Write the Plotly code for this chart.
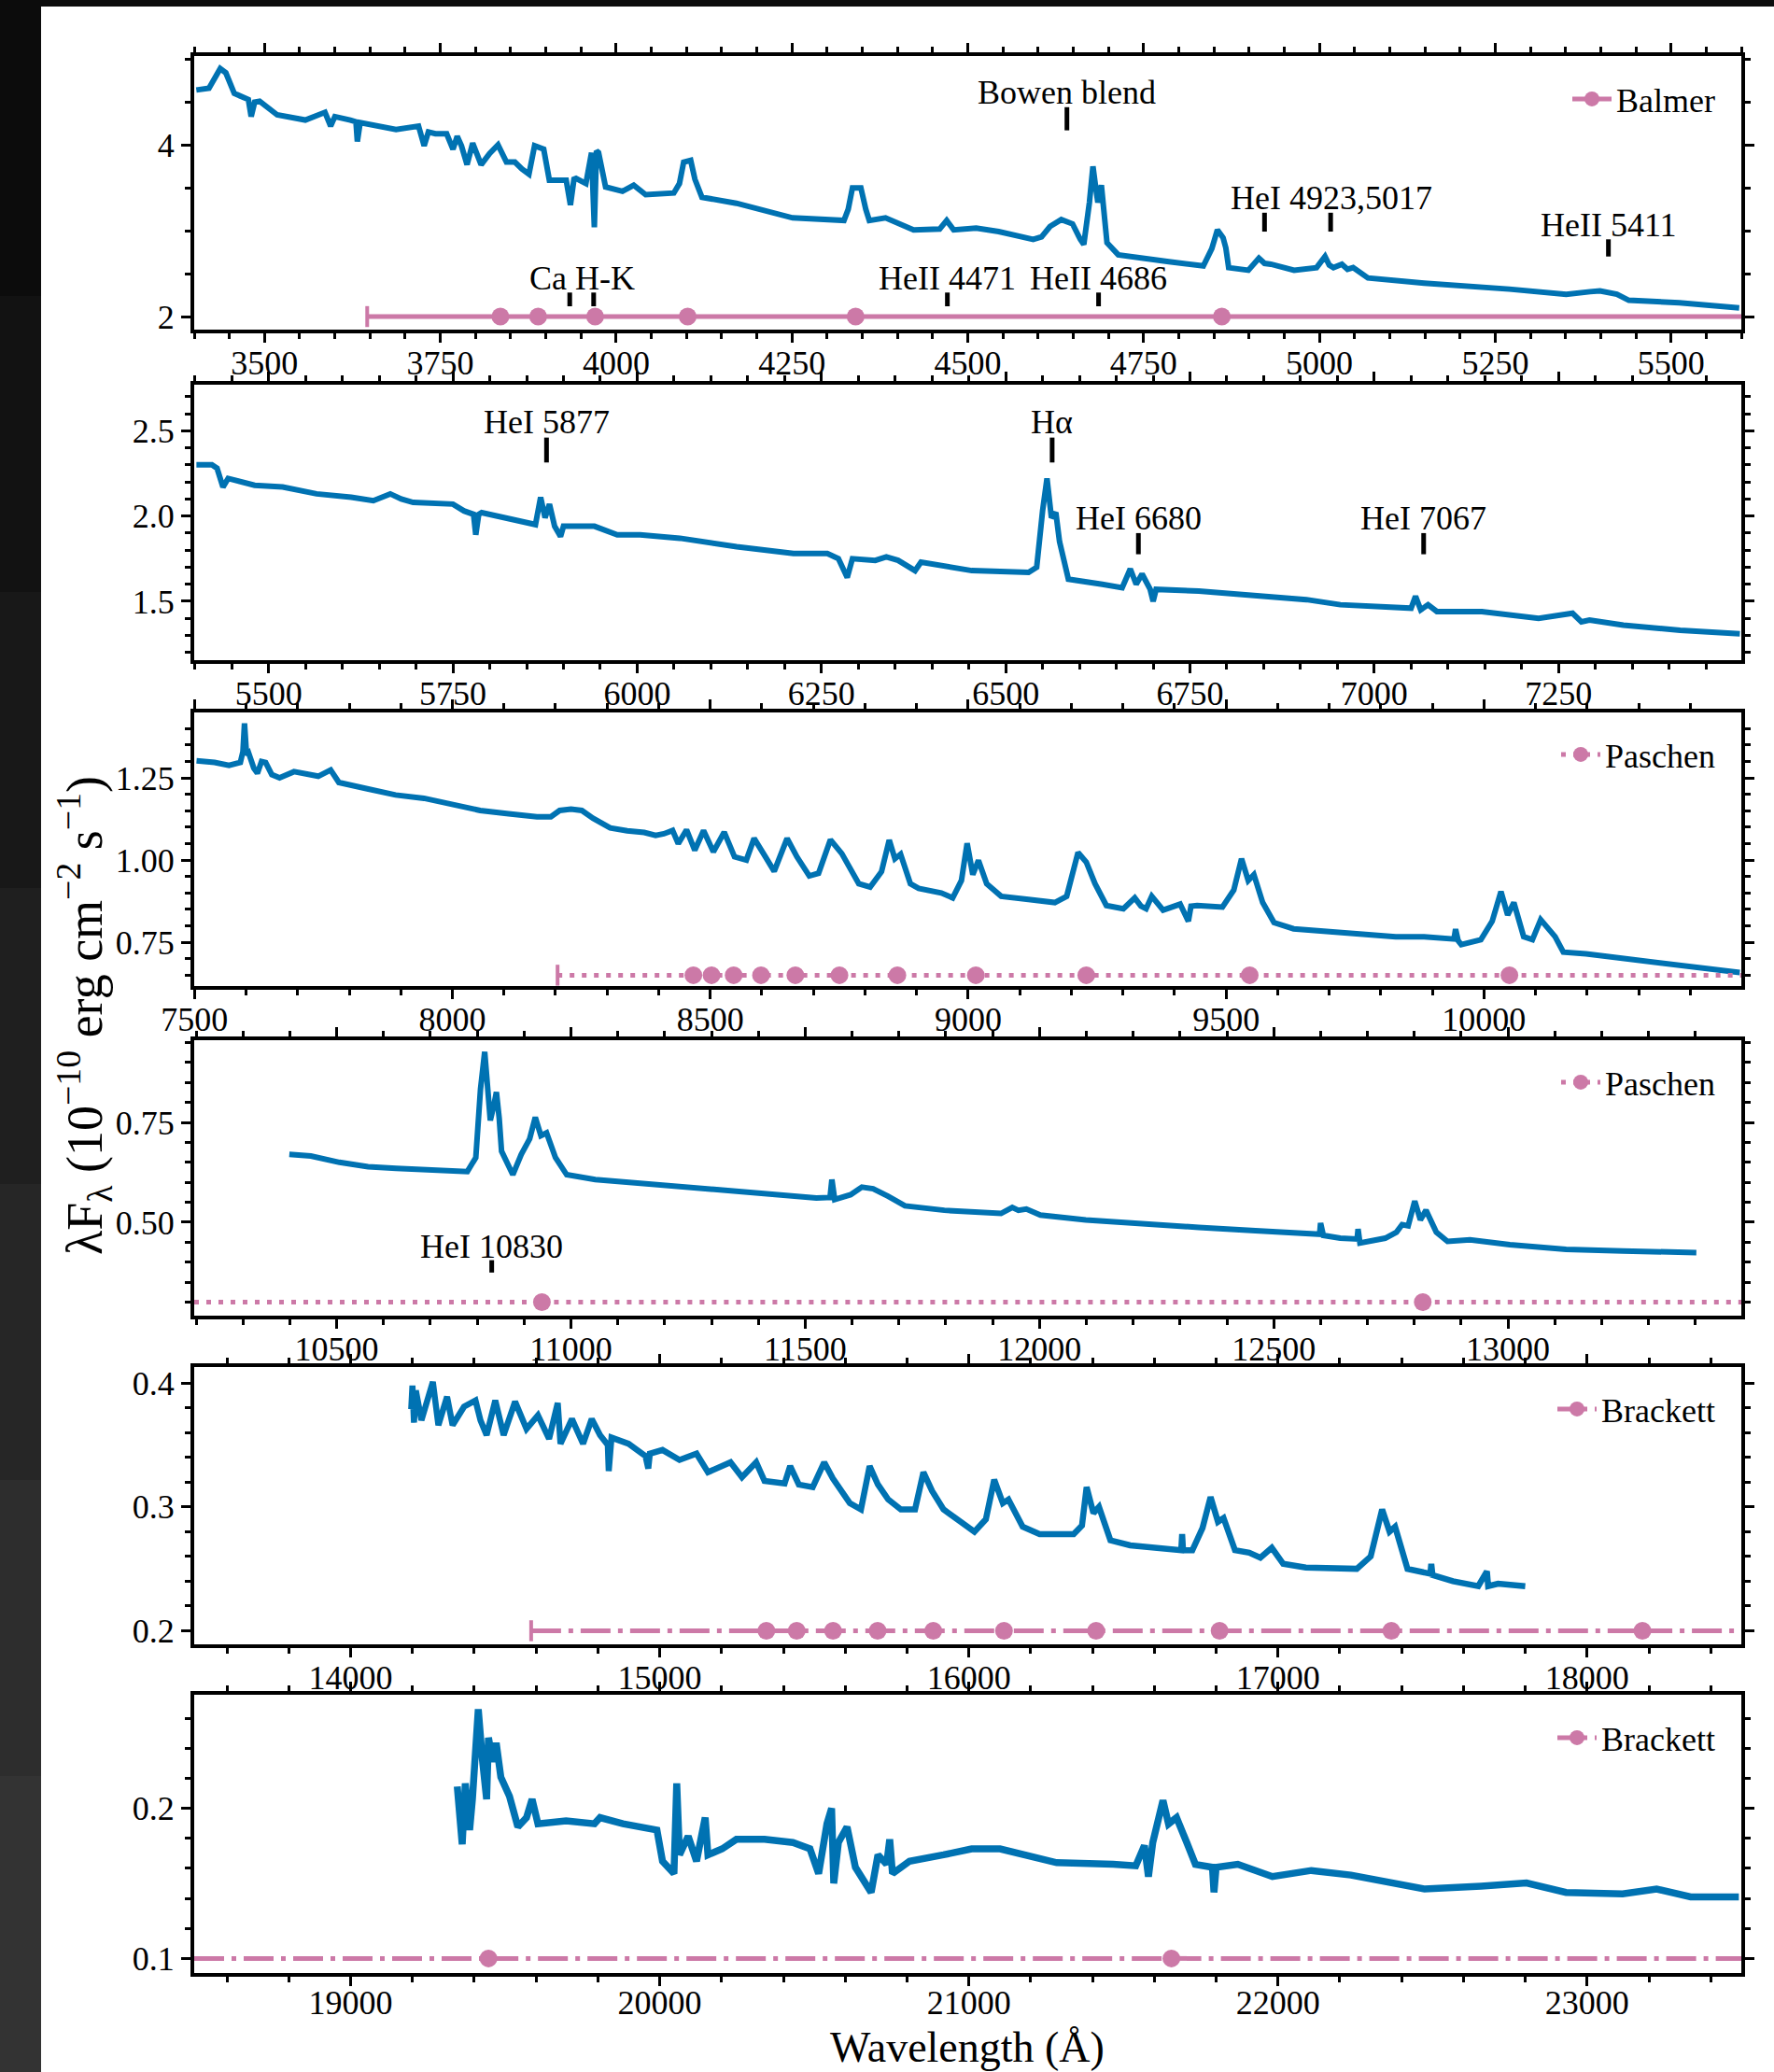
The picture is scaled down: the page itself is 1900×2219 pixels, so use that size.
import plotly.graph_objects as go

FONT = "Liberation Serif"
BLUE = "#0072B2"
PINK = "#CC79A7"

# ---------------- spectra ----------------
wave1 = [3403, 3421, 3437, 3445, 3457, 3477, 3481, 3486, 3493, 3518, 3558, 3586, 3594, 3600, 3622, 3630, 3632, 3636,
         3687, 3719, 3727, 3733, 3743, 3759, 3768, 3774, 3780, 3788, 3796, 3808, 3820, 3832, 3844, 3856, 3866, 3876,
         3884, 3891, 3897, 3905, 3929, 3935, 3940, 3943, 3957, 3965, 3969, 3972, 3975, 3985, 4009, 4025, 4042, 4082,
         4090, 4096, 4106, 4112, 4122, 4171, 4251, 4324, 4330, 4336, 4348, 4355, 4360, 4383, 4423, 4460, 4470, 4480,
         4512, 4544, 4593, 4605, 4617, 4633, 4649, 4660, 4665, 4673, 4678, 4682, 4685, 4690, 4694, 4698, 4714, 4746,
         4786, 4835, 4847, 4855, 4863, 4867, 4871, 4899, 4914, 4922, 4931, 4964, 4996, 5008, 5014, 5020, 5032, 5040,
         5048, 5069, 5149, 5270, 5351, 5385, 5399, 5423, 5440, 5512, 5597]
flux1 = [4.64, 4.66, 4.89, 4.84, 4.60, 4.53, 4.33, 4.50, 4.51, 4.35, 4.29, 4.38, 4.22, 4.33, 4.29, 4.27, 4.04, 4.26,
         4.18, 4.22, 3.99, 4.15, 4.13, 4.13, 3.95, 4.10, 3.99, 3.77, 4.02, 3.77, 3.90, 4.00, 3.80, 3.80, 3.72, 3.66,
         3.99, 3.97, 3.95, 3.59, 3.59, 3.30, 3.60, 3.61, 3.55, 3.91, 3.04, 3.93, 3.91, 3.51, 3.46, 3.53, 3.42, 3.44,
         3.55, 3.80, 3.82, 3.60, 3.39, 3.32, 3.15, 3.12, 3.25, 3.50, 3.50, 3.25, 3.12, 3.15, 3.01, 3.02, 3.12, 3.01,
         3.03, 2.99, 2.90, 2.93, 3.05, 3.13, 3.08, 2.90, 2.84, 3.33, 3.75, 3.50, 3.33, 3.53, 3.20, 2.86, 2.72, 2.68,
         2.64, 2.59, 2.79, 3.01, 2.92, 2.80, 2.57, 2.54, 2.68, 2.62, 2.61, 2.54, 2.57, 2.70, 2.60, 2.57, 2.61, 2.55,
         2.57, 2.45, 2.39, 2.32, 2.26, 2.29, 2.30, 2.26, 2.19, 2.16, 2.10]

wave2 = [5402, 5423, 5430, 5438, 5445, 5481, 5519, 5565, 5612, 5642, 5665, 5680, 5696, 5735, 5750, 5765, 5778, 5781,
         5785, 5789, 5827, 5862, 5869, 5875, 5881, 5888, 5896, 5900, 5942, 5973, 6004, 6058, 6135, 6212, 6258, 6273,
         6285, 6292, 6323, 6338, 6354, 6377, 6385, 6454, 6531, 6542, 6550, 6556, 6562, 6568, 6573, 6585, 6631, 6658,
         6669, 6677, 6685, 6696, 6700, 6704, 6762, 6838, 6869, 6908, 6954, 7031, 7050, 7056, 7063, 7073, 7085, 7146,
         7223, 7269, 7281, 7292, 7338, 7415, 7496]
flux2 = [2.30, 2.30, 2.28, 2.17, 2.22, 2.18, 2.17, 2.13, 2.11, 2.09, 2.13, 2.10, 2.08, 2.07, 2.07, 2.03, 2.01, 1.89,
         2.01, 2.02, 1.98, 1.95, 2.11, 1.99, 2.07, 1.94, 1.88, 1.94, 1.94, 1.89, 1.89, 1.87, 1.82, 1.78, 1.78, 1.75,
         1.64, 1.75, 1.74, 1.76, 1.74, 1.68, 1.73, 1.68, 1.67, 1.70, 2.03, 2.22, 1.99, 2.02, 1.85, 1.63, 1.60, 1.58,
         1.69, 1.60, 1.66, 1.57, 1.50, 1.57, 1.56, 1.53, 1.52, 1.51, 1.48, 1.46, 1.46, 1.53, 1.45, 1.48, 1.44, 1.44,
         1.40, 1.43, 1.38, 1.39, 1.36, 1.33, 1.31]

wave3 = [7504, 7539, 7567, 7589, 7594, 7597, 7601, 7605, 7615, 7622, 7630, 7638, 7650, 7665, 7693, 7740, 7764, 7780,
         7835, 7890, 7945, 8000, 8054, 8109, 8164, 8191, 8208, 8230, 8251, 8273, 8306, 8339, 8372, 8394, 8410, 8427,
         8438, 8454, 8470, 8487, 8506, 8527, 8547, 8570, 8585, 8607, 8624, 8649, 8668, 8692, 8710, 8733, 8755, 8788,
         8810, 8832, 8847, 8858, 8869, 8888, 8904, 8948, 8970, 8987, 8998, 9009, 9020, 9036, 9064, 9113, 9168, 9191,
         9213, 9229, 9246, 9268, 9301, 9323, 9335, 9345, 9356, 9378, 9411, 9427, 9432, 9444, 9493, 9515, 9530, 9543,
         9554, 9571, 9593, 9631, 9719, 9829, 9884, 9942, 9945, 9950, 9956, 9994, 10016, 10033, 10046, 10058, 10077,
         10094, 10110, 10127, 10138, 10154, 10198, 10496]
flux3 = [1.302, 1.297, 1.288, 1.297, 1.330, 1.416, 1.320, 1.326, 1.280, 1.264, 1.300, 1.297, 1.260, 1.250, 1.269,
         1.255, 1.274, 1.236, 1.217, 1.198, 1.188, 1.170, 1.151, 1.141, 1.132, 1.132, 1.151, 1.155, 1.151, 1.127,
         1.098, 1.089, 1.084, 1.075, 1.080, 1.090, 1.050, 1.092, 1.030, 1.090, 1.025, 1.085, 1.010, 1.000, 1.066,
         1.010, 0.966, 1.066, 1.010, 0.952, 0.960, 1.062, 1.020, 0.928, 0.918, 0.965, 1.061, 1.004, 1.018, 0.928,
         0.914, 0.900, 0.885, 0.938, 1.051, 0.956, 0.999, 0.928, 0.890, 0.881, 0.871, 0.890, 1.023, 0.994, 0.928,
         0.862, 0.852, 0.885, 0.860, 0.852, 0.890, 0.848, 0.866, 0.814, 0.860, 0.862, 0.857, 0.909, 1.004, 0.938,
         0.956, 0.871, 0.810, 0.791, 0.781, 0.767, 0.767, 0.760, 0.790, 0.755, 0.743, 0.758, 0.814, 0.904, 0.833,
         0.871, 0.767, 0.758, 0.819, 0.786, 0.767, 0.720, 0.715, 0.658]

wave4 = [10399, 10445, 10506, 10567, 10627, 10724, 10779, 10797, 10807, 10816, 10822, 10828, 10835, 10841, 10847,
         10852, 10876, 10894, 10912, 10924, 10936, 10948, 10967, 10991, 11052, 11173, 11355, 11524, 11553, 11557,
         11563, 11597, 11621, 11645, 11677, 11713, 11797, 11918, 11942, 11955, 11972, 12002, 12099, 12220, 12340,
         12461, 12581, 12598, 12600, 12606, 12642, 12678, 12680, 12684, 12738, 12762, 12774, 12787, 12801, 12813,
         12825, 12847, 12871, 12919, 13004, 13124, 13245, 13402]
flux4 = [0.670, 0.666, 0.650, 0.639, 0.635, 0.631, 0.627, 0.662, 0.833, 0.927, 0.850, 0.755, 0.790, 0.826, 0.760,
         0.678, 0.619, 0.670, 0.709, 0.763, 0.717, 0.724, 0.662, 0.619, 0.607, 0.596, 0.576, 0.561, 0.562, 0.607,
         0.557, 0.569, 0.588, 0.584, 0.565, 0.541, 0.530, 0.522, 0.537, 0.530, 0.533, 0.518, 0.506, 0.495, 0.487,
         0.479, 0.471, 0.470, 0.498, 0.467, 0.460, 0.458, 0.483, 0.448, 0.460, 0.475, 0.494, 0.491, 0.553, 0.506,
         0.530, 0.475, 0.452, 0.456, 0.444, 0.432, 0.428, 0.424]

wave5 = [14196, 14200, 14205, 14211, 14229, 14266, 14284, 14312, 14330, 14367, 14404, 14420, 14440, 14468, 14495,
         14532, 14569, 14606, 14642, 14670, 14679, 14716, 14752, 14780, 14807, 14832, 14835, 14840, 14844, 14899,
         14954, 14963, 14968, 15009, 15064, 15119, 15156, 15229, 15266, 15312, 15339, 15404, 15422, 15450, 15495,
         15532, 15560, 15615, 15651, 15679, 15706, 15739, 15780, 15826, 15853, 15881, 15918, 15973, 16018, 16055,
         16082, 16110, 16128, 16174, 16229, 16339, 16366, 16381, 16403, 16421, 16458, 16522, 16687, 16690, 16693,
         16723, 16756, 16782, 16806, 16824, 16861, 16907, 16943, 16980, 17017, 17090, 17255, 17300, 17337, 17361,
         17379, 17419, 17493, 17496, 17500, 17566, 17648, 17676, 17680, 17712, 17800]
flux5 = [0.379, 0.398, 0.368, 0.394, 0.370, 0.401, 0.366, 0.389, 0.366, 0.381, 0.386, 0.370, 0.358, 0.386, 0.358,
         0.385, 0.363, 0.374, 0.355, 0.384, 0.351, 0.371, 0.351, 0.371, 0.358, 0.350, 0.329, 0.350, 0.356, 0.351,
         0.341, 0.331, 0.343, 0.346, 0.338, 0.343, 0.328, 0.336, 0.324, 0.336, 0.321, 0.319, 0.333, 0.318, 0.316,
         0.336, 0.323, 0.303, 0.298, 0.333, 0.318, 0.306, 0.298, 0.298, 0.328, 0.313, 0.298, 0.288, 0.280, 0.290,
         0.322, 0.303, 0.306, 0.284, 0.278, 0.278, 0.285, 0.316, 0.295, 0.300, 0.273, 0.269, 0.265, 0.278, 0.265,
         0.265, 0.283, 0.308, 0.288, 0.291, 0.265, 0.263, 0.259, 0.267, 0.254, 0.251, 0.250, 0.260, 0.298, 0.280,
         0.284, 0.250, 0.246, 0.254, 0.245, 0.240, 0.236, 0.248, 0.236, 0.238, 0.236]

wave6 = [19345, 19352, 19361, 19371, 19385, 19394, 19413, 19426, 19440, 19446, 19459, 19471, 19486, 19514, 19541,
         19569, 19587, 19606, 19697, 19789, 19807, 19881, 19954, 19991, 20009, 20046, 20055, 20064, 20092, 20119,
         20147, 20156, 20202, 20248, 20339, 20431, 20486, 20514, 20541, 20556, 20563, 20578, 20606, 20633, 20684,
         20706, 20734, 20744, 20753, 20808, 20918, 21009, 21101, 21192, 21284, 21467, 21540, 21568, 21581, 21595,
         21628, 21646, 21672, 21705, 21733, 21788, 21793, 21800, 21870, 21982, 22108, 22236, 22383, 22474, 22657,
         22804, 22932, 23115, 23225, 23335, 23491]
flux6 = [0.2145, 0.202, 0.176, 0.2166, 0.1855, 0.206, 0.266, 0.233, 0.206, 0.247, 0.231, 0.2435, 0.2207, 0.208,
         0.1876, 0.1938, 0.206, 0.1897, 0.1917, 0.1897, 0.1938, 0.1897, 0.1876, 0.1855, 0.1648, 0.1565, 0.2166,
         0.169, 0.1814, 0.1648, 0.1938, 0.169, 0.173, 0.1793, 0.1793, 0.1772, 0.173, 0.1565, 0.1897, 0.200, 0.150,
         0.1772, 0.1876, 0.1607, 0.144, 0.169, 0.1627, 0.1793, 0.1565, 0.1648, 0.169, 0.173, 0.173, 0.168, 0.1638,
         0.1627, 0.1617, 0.1752, 0.1545, 0.1772, 0.2052, 0.1896, 0.1938, 0.1772, 0.1627, 0.1607, 0.144, 0.1607,
         0.1627, 0.1545, 0.1586, 0.1555, 0.1493, 0.1462, 0.1482, 0.1503, 0.144, 0.143, 0.1462, 0.141, 0.141]

spectra_w = [wave1, wave2, wave3, wave4, wave5, wave6]
spectra_f = [flux1, flux2, flux3, flux4, flux5, flux6]

# ---------------- hydrogen series ----------------
balmer_lines = [3835.4, 3889.1, 3970.1, 4101.7, 4340.5, 4861.3]
balmer_limit = 3646.0
paschen_lines = [8467.3, 8502.5, 8545.4, 8598.4, 8665.0, 8750.5, 8862.8, 9014.9, 9229.0, 9545.9, 10049.4,
                 10938.1, 12818.1]
paschen_limit = 8204.0
brackett_lines = [15345.0, 15443.1, 15560.7, 15704.9, 15884.9, 16113.7, 16411.7, 16811.1, 17366.9, 18179.1,
                  19446.0, 21655.3]
brackett_limit = 14584.0

series_name = ["Balmer", None, "Paschen", "Paschen", "Brackett", "Brackett"]
series_level = [2.0, None, 0.65, 0.30, 0.20, 0.10]

# ---------------- axes ----------------
x_ranges = [[3400, 5600], [5399, 7498], [7499.5, 10499], [10196, 13498], [13494, 18499], [18494, 23499]]
y_ranges = [[1.848, 5.036], [1.155, 2.770], [0.617, 1.449], [0.266, 0.956], [0.189, 0.413], [0.0903, 0.2756]]
x_major = [250, 250, 500, 500, 1000, 1000]
x_minor = [50, 50, 100, 100, 200, 200]
y_major = [2, 0.5, 0.25, 0.25, 0.1, 0.1]
y_minor = [0.5, 0.1, 0.05, 0.05, 0.02, 0.02]
y_fmt = ["d", ".1f", ".2f", ".2f", ".1f", ".1f"]

# ---------------- line identifications ----------------
label_panel = [1, 1, 1, 1, 1, 1, 2, 2, 2, 2, 4]
label_text = ["Bowen blend", "Ca H-K", "HeII 4471", "HeII 4686", "HeI 4923,5017", "HeII 5411",
              "HeI 5877", "Hα", "HeI 6680", "HeI 7067", "HeI 10830"]
label_x = [4641, 3951, 4471, 4686, 5017, 5411, 5877, 6563, 6680, 7067, 10831]
label_y = [4.61, 2.45, 2.45, 2.45, 3.38, 3.07, 2.551, 2.551, 1.985, 1.985, 0.440]

mark_panel = [1, 1, 1, 1, 1, 1, 1, 1, 2, 2, 2, 2, 4]
mark_x = [4641, 3934, 3968, 4471, 4686, 4922, 5016, 5411, 5877, 6563, 6680, 7067, 10831]
mark_y0 = [4.17, 2.12, 2.12, 2.12, 2.12, 2.99, 2.99, 2.70, 2.314, 2.314, 1.776, 1.776, 0.374]
mark_y1 = [4.44, 2.28, 2.28, 2.28, 2.28, 3.21, 3.21, 2.90, 2.46, 2.46, 1.90, 1.90, 0.405]

# ---------------- layout geometry (pixels) ----------------
W, H = 1900, 2219
PLOT_L, PLOT_R = 208, 1865
panel_top = [60, 412, 763, 1114, 1464, 1815]
panel_bot = [353, 707, 1056, 1409, 1761, 2113]
legend_yc = [106, None, 808, 1159, 1509, 1861]
line_width = [6, 6, 6, 6, 6.5, 7.5]
label_standoff = [-9, -9, -9, -9, -9, -13]
FS = 36

fig = go.Figure()


def axn(i, kind):
    return kind if i == 0 else f"{kind}{i + 1}"


legend_ids = {0: "legend", 2: "legend2", 3: "legend3", 4: "legend4", 5: "legend5"}

for i in range(6):
    xa, ya = axn(i, "x"), axn(i, "y")
    fig.add_trace(go.Scatter(x=spectra_w[i], y=spectra_f[i], mode="lines", xaxis=xa, yaxis=ya,
                             line=dict(color=BLUE, width=line_width[i]), showlegend=False,
                             hoverinfo="skip"))

    mx, my = [], []
    for p, x0, y0, y1 in zip(mark_panel, mark_x, mark_y0, mark_y1):
        if p == i + 1:
            mx += [x0, x0, None]
            my += [y0, y1, None]
    if mx:
        fig.add_trace(go.Scatter(x=mx, y=my, mode="lines", xaxis=xa, yaxis=ya,
                                 line=dict(color="black", width=5), showlegend=False, hoverinfo="skip"))

    name = series_name[i]
    if name is None:
        continue
    if name == "Balmer":
        lines, limit, dash = balmer_lines, balmer_limit, "solid"
    elif name == "Paschen":
        lines, limit, dash = paschen_lines, paschen_limit, "5px,8px"
    else:
        lines, limit, dash = brackett_lines, brackett_limit, "32px,8px,5px,8px"
    lo, hi = x_ranges[i]
    inside = [w for w in lines if lo <= w <= hi]
    lev = series_level[i]
    start = limit if lo <= limit <= hi else lo
    ext_x = [start, inside[0], None, inside[-1], hi]
    fig.add_trace(go.Scatter(x=ext_x, y=[lev, lev, None, lev, lev], mode="lines", xaxis=xa, yaxis=ya,
                             line=dict(color=PINK, width=5, dash=dash), showlegend=False, hoverinfo="skip"))
    fig.add_trace(go.Scatter(x=inside, y=[lev] * len(inside), mode="lines+markers", xaxis=xa, yaxis=ya,
                             name=name, legend=legend_ids[i],
                             line=dict(color=PINK, width=5, dash=dash),
                             marker=dict(color=PINK, size=19, symbol="circle"), hoverinfo="skip"))
    if lo <= limit <= hi:
        fig.add_trace(go.Scatter(x=[limit], y=[lev], mode="markers", xaxis=xa, yaxis=ya, showlegend=False,
                                 marker=dict(symbol="line-ns", size=16, color=PINK,
                                             line=dict(color=PINK, width=4)), hoverinfo="skip"))

layout = dict(width=W, height=H, margin=dict(l=0, r=0, t=0, b=0, autoexpand=False),
              paper_bgcolor="white", plot_bgcolor="white", showlegend=True,
              font=dict(family=FONT, color="black", size=FS))

for i in range(6):
    common = dict(showline=True, linecolor="black", linewidth=4, mirror="allticks", ticks="outside",
                  ticklen=10, tickwidth=3, tickcolor="black", showgrid=False, zeroline=False,
                  automargin=False, tickfont=dict(family=FONT, size=FS, color="black"))
    xd = [PLOT_L / W, PLOT_R / W]
    yd = [1 - panel_bot[i] / H, 1 - panel_top[i] / H]
    layout[axn(i, "xaxis")] = dict(common, domain=xd, range=x_ranges[i], anchor=axn(i, "y"),
                                   tick0=0, dtick=x_major[i], tickformat="d",
                                   ticklabelstandoff=label_standoff[i],
                                   minor=dict(ticks="outside", ticklen=6, tickwidth=2.5, tickcolor="black",
                                              tick0=0, dtick=x_minor[i], showgrid=False))
    layout[axn(i, "yaxis")] = dict(common, domain=yd, range=y_ranges[i], anchor=axn(i, "x"),
                                   tick0=0, dtick=y_major[i], tickformat=y_fmt[i],
                                   minor=dict(ticks="outside", ticklen=6, tickwidth=2.5, tickcolor="black",
                                              tick0=0, dtick=y_minor[i], showgrid=False))

for i, lid in legend_ids.items():
    layout[lid] = dict(x=1842 / W, y=1 - legend_yc[i] / H, xanchor="right", yanchor="middle",
                       bgcolor="rgba(0,0,0,0)", borderwidth=0, itemwidth=42,
                       font=dict(family=FONT, size=FS, color="black"))

annotations = []
for p, t, x0, y0 in zip(label_panel, label_text, label_x, label_y):
    annotations.append(dict(text=t, x=x0, y=y0, xref=axn(p - 1, "x"), yref=axn(p - 1, "y"),
                            showarrow=False, xanchor="center", yanchor="middle",
                            font=dict(family=FONT, size=FS, color="black")))
annotations.append(dict(text="λF<sub>λ</sub> (10<sup>−10</sup> erg cm<sup>−2</sup> s<sup>−1</sup>)",
                        x=90 / W, y=1 - 1088 / H, xref="paper", yref="paper", textangle=-90,
                        showarrow=False, xanchor="center", yanchor="middle",
                        font=dict(family=FONT, size=54, color="black")))
annotations.append(dict(text="Wavelength (Å)", x=1036 / W, y=0, xref="paper", yref="paper",
                        showarrow=False, xanchor="center", yanchor="bottom", borderpad=0,
                        font=dict(family=FONT, size=46, color="black")))
layout["annotations"] = annotations

# dark screenshot border
shapes = []
band_cols = ["#0c0c0c", "#121212", "#181818", "#1f1f1f", "#262626", "#2d2d2d", "#333333"]
nb = len(band_cols)
for k, c in enumerate(band_cols):
    shapes.append(dict(type="rect", xref="paper", yref="paper", x0=0, x1=44 / W,
                       y0=1 - (k + 1) / nb, y1=1 - k / nb, fillcolor=c, line=dict(width=0), layer="above"))
shapes.append(dict(type="rect", xref="paper", yref="paper", x0=0, x1=1, y0=1 - 7 / H, y1=1,
                   fillcolor="#0c0c0c", line=dict(width=0), layer="above"))
layout["shapes"] = shapes

fig.update_layout(**layout)
fig.write_html("out.html")
